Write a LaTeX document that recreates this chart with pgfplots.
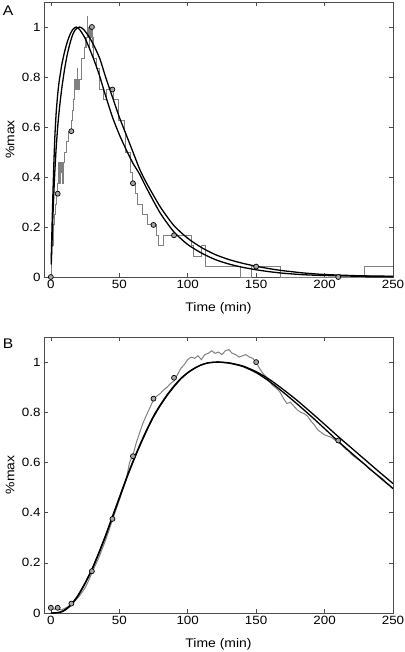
\documentclass[border=0pt]{standalone}
\usepackage{pgfplots}
\pgfplotsset{compat=1.18}
\usepackage{fontspec}
\setmainfont{Liberation Sans}[FakeStretch=1.12]

\pgfplotsset{
  panel/.style={
    scale only axis, width=349bp,
    xmin=-5, xmax=250, ymin=0, ymax=1.1,
    xtick={0,50,100,150,200,250},
    ytick={0,0.2,0.4,0.6,0.8,1},
    xtick pos=both, ytick pos=both,
    tick align=inside,
    major tick length=4bp,
    axis line style={draw=black!70, line width=0.6bp},
    tick style={draw=black!70, line width=0.6bp},
    /pgf/number format/assume math mode=true,
    ticklabel style={font=\fontsize{12}{12}\selectfont},
    label style={font=\fontsize{12.5}{13}\selectfont},
    xlabel={Time (min)},
    ylabel={\%max},
    xlabel style={at={(axis description cs:0.5,-0.113)}, anchor=center},
    ylabel style={at={(axis description cs:-0.097,0.5)}, anchor=center, font=\fontsize{12.5}{13}\selectfont},
    clip=true,
  },
  grayline/.style={draw=black!50, line width=1.0bp},
  fitline/.style={draw=black, line width=1.3bp, smooth, tension=0.4},
  dots/.style={only marks, mark=*, mark size=2.5bp, mark options={fill=black!35, draw=black, line width=0.7bp}},
}

\begin{document}
\begin{tikzpicture}
% ---------------- Panel A ----------------
\begin{axis}[panel, height=275bp, at={(44bp,-277bp)}, anchor=south west]
\addplot[grayline, const plot mark left] coordinates {
(0,0) (0.8,0.125) (1.6,0.2083) (2.4,0.25) (3.2,0.2917) (4,0.3333) (5,0.375)
(5.6,0.4583) (6.2,0.375) (6.8,0.4583) (7.4,0.4167) (8,0.4583) (8.6,0.375)
(9.2,0.4583) (9.8,0.5) (11.4,0.5417) (13,0.5833) (15,0.625) (15.8,0.6667)
(16.4,0.7083) (17,0.75) (17.5,0.7917) (18,0.75) (18.5,0.7917) (19,0.75)
(19.4,0.8333) (19.8,0.75) (20.3,0.7917) (20.8,0.75) (21.3,0.7917) (22.3,0.875)
(24.3,0.9167) (25,0.9583) (25.7,0.9167) (26.3,0.9583) (26.7,1.0417) (27.1,0.9583)
(27.6,1.0) (28.1,0.9167) (28.6,1.0) (29.1,0.9583) (29.6,1.0) (30.1,0.9167)
(30.6,0.9583) (31.1,0.875) (33.6,0.8333) (35.5,0.75) (38.4,0.7083) (40.9,0.75)
(45.7,0.7083) (49.3,0.625) (53.7,0.5833) (54.7,0.5) (57.9,0.4167) (59.3,0.375)
(61.5,0.3333) (63.2,0.2917) (67.1,0.25) (70.5,0.2083) (77.3,0.1667) (78.9,0.125)
(82.1,0.1667) (102.9,0.125) (104.5,0.0833) (110.2,0.125) (113.3,0.0417)
(138.6,0) (146.7,0.0417) (167.8,0) (229.4,0.0417) (250,0.0417)
};
\addplot[fitline] coordinates {
(0.3,0.07) (0.6,0.14) (1,0.23) (1.5,0.33) (2,0.42) (2.5,0.5) (3,0.57) (3.5,0.62)
(4,0.665) (5,0.73) (6,0.78) (7,0.815) (8,0.85) (10,0.9) (12,0.94) (14,0.97)
(16,0.99) (18.5,1.0) (21,0.99) (25,0.955) (30,0.89) (35,0.815) (40,0.725)
(45,0.64) (50,0.57) (55,0.51) (60,0.455) (65,0.41) (70,0.355) (80,0.255)
(90,0.18) (100,0.13) (110,0.096) (120,0.07) (130,0.052) (140,0.039) (150,0.029)
(160,0.021) (170,0.015) (185,0.009) (200,0.006) (225,0.003) (250,0.0015)
};
\addplot[fitline] coordinates {
(0.3,0.05) (0.6,0.1) (1,0.16) (1.5,0.24) (2,0.31) (2.5,0.375) (3,0.43) (3.5,0.48)
(4,0.525) (5,0.6) (6,0.66) (7,0.71) (8,0.755) (10,0.83) (12,0.89) (14,0.935)
(16,0.97) (18,0.99) (21,1.0) (24,0.99) (28,0.96) (32,0.92) (36,0.87) (40,0.80)
(45,0.72) (50,0.64) (55,0.57) (60,0.5) (65,0.43) (70,0.375) (80,0.28) (90,0.205)
(100,0.155) (110,0.118) (120,0.09) (130,0.07) (140,0.055) (150,0.043) (160,0.033)
(170,0.025) (185,0.016) (200,0.01) (225,0.005) (250,0.003)
};
\addplot[dots] coordinates {
(0,0) (5,0.3333) (15,0.5833) (30,1.0) (45,0.75) (60,0.375) (75,0.2083)
(90,0.1667) (150,0.0417) (210,0)
};
\end{axis}

% ---------------- Panel B ----------------
\begin{axis}[panel, height=276bp, at={(44bp,-613bp)}, anchor=south west]
\addplot[grayline] coordinates {
(0,0.02) (2.5,0.015) (5,0.02) (7.5,0.012) (10,0.018) (12.5,0.025) (15,0.035)
(17.5,0.048) (20,0.062) (22.5,0.08) (25,0.1) (27.5,0.128) (30,0.16) (32.5,0.19)
(35,0.22) (37.5,0.255) (40,0.29) (42.5,0.33) (45,0.37) (47.5,0.41) (50,0.45)
(52.5,0.49) (55,0.53) (57.5,0.6) (60,0.63) (62.5,0.68) (65,0.72) (67.5,0.76)
(70,0.79) (72.5,0.82) (75,0.85) (77.5,0.865) (80,0.875) (82.5,0.89) (85,0.9)
(87.5,0.915) (90,0.925) (92.5,0.95) (95,0.975) (97.5,0.99) (100,1.01)
(102.5,1.02) (105,1.015) (107.5,1.025) (110,1.01) (112.5,1.03) (115,1.035)
(117.5,1.045) (120,1.035) (122.5,1.04) (125,1.03) (127.5,1.045) (130,1.05)
(132.5,1.035) (135,1.03) (137.5,1.02) (140,1.025) (142.5,1.03) (145,1.02)
(147.5,1.015) (150,1.0) (152.5,0.975) (155,0.955) (157.5,0.94) (160,0.92)
(162.5,0.905) (165,0.895) (167.5,0.88) (170,0.855) (172.5,0.835) (175,0.84)
(177.5,0.825) (180,0.81) (182.5,0.8) (185,0.795) (187.5,0.785) (190,0.765)
(192.5,0.75) (195,0.73) (197.5,0.72) (200,0.71) (202.5,0.705) (205,0.7)
(207.5,0.69) (210,0.68) (212.5,0.67) (215,0.655) (217.5,0.645) (220,0.63)
(222.5,0.62) (225,0.61) (227.5,0.6) (230,0.59) (232.5,0.575) (235,0.565)
(237.5,0.555) (240,0.545) (242.5,0.535) (245,0.52) (247.5,0.51) (250,0.495)
};
\addplot[fitline] coordinates {
(0,0) (4,0.001) (7,0.004) (10,0.012) (15,0.035) (20,0.072) (25,0.12) (30,0.175)
(35,0.24) (40,0.31) (45,0.385) (50,0.46) (55,0.535) (60,0.605) (65,0.67)
(70,0.73) (75,0.785) (80,0.83) (85,0.87) (90,0.905) (95,0.935) (100,0.958)
(105,0.976) (110,0.989) (115,0.997) (122,1.0) (130,0.996) (140,0.983)
(150,0.958) (160,0.922) (170,0.879) (180,0.833) (190,0.785) (200,0.735)
(210,0.684) (220,0.636) (230,0.589) (240,0.542) (250,0.496)
};
\addplot[fitline] coordinates {
(0,0) (4,0.001) (7,0.003) (10,0.01) (15,0.032) (20,0.069) (25,0.117) (30,0.172)
(35,0.236) (40,0.306) (45,0.381) (50,0.456) (55,0.531) (60,0.601) (65,0.666)
(70,0.726) (75,0.781) (80,0.827) (85,0.867) (90,0.902) (95,0.933) (100,0.957)
(105,0.975) (110,0.989) (115,0.997) (122,1.0) (130,0.997) (140,0.985)
(150,0.962) (160,0.93) (170,0.89) (180,0.847) (190,0.8) (200,0.752)
(210,0.703) (220,0.656) (230,0.609) (240,0.562) (250,0.516)
};
\addplot[dots] coordinates {
(0,0.0208) (5,0.0208) (15,0.0375) (30,0.1667) (45,0.375) (60,0.625)
(75,0.8542) (90,0.9375) (150,1.0) (210,0.6875)
};
\end{axis}

\node[anchor=base west, inner sep=0pt, font=\fontsize{14}{14}\selectfont] at (2.7bp,-15bp) {A};
\node[anchor=base west, inner sep=0pt, font=\fontsize{14}{14}\selectfont] at (2.7bp,-348bp) {B};

\pgfresetboundingbox
\path[use as bounding box] (0,0) rectangle (405bp,-652bp);
\end{tikzpicture}
\end{document}
